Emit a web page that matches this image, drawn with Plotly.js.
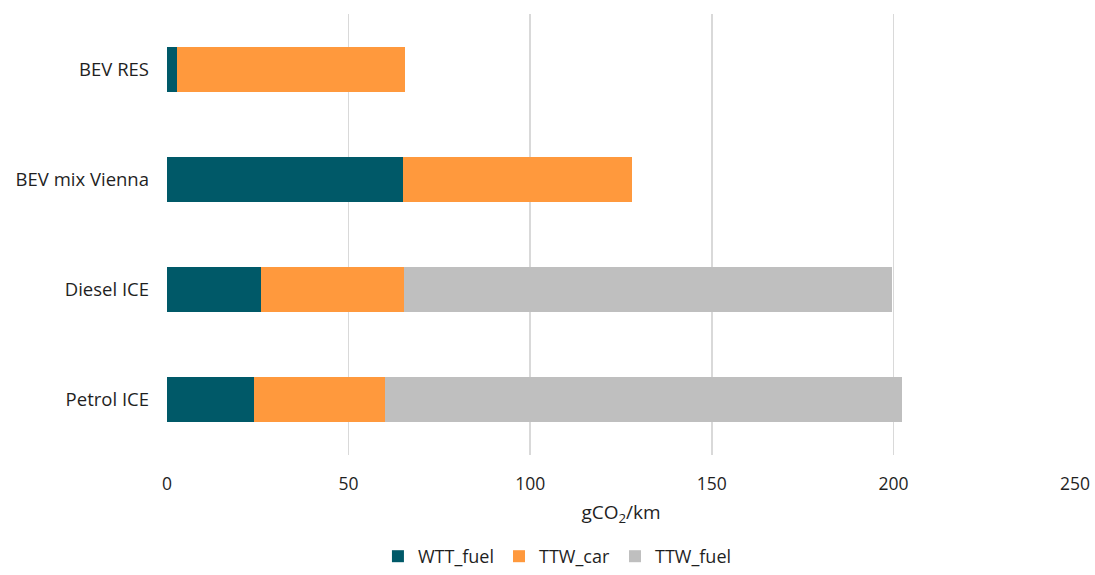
<!DOCTYPE html>
<html>
<head>
<meta charset="utf-8">
<script src="https://cdn.plot.ly/plotly-3.0.1.min.js"></script>
<style>
  html, body { margin: 0; padding: 0; background: #ffffff; }
  #chart { width: 1095px; height: 575px; }
</style>
</head>
<body>
<div id="chart"></div>
<script>
// Vehicle types, listed bottom to top
const vehicles = ['Petrol ICE', 'Diesel ICE', 'BEV mix Vienna', 'BEV RES'];

// Emissions per component, gCO2/km
const wttFuel = [24.0, 26.0, 65.0, 2.8];
const ttwCar  = [36.1, 39.3, 62.9, 62.7];
const ttwFuel = [142.3, 134.2, 0, 0];

const xTicks = [0, 50, 100, 150, 200, 250];

const FONT = 'Open Sans, Lato, sans-serif';
const TEXT = '#1f1f1f';

function series(name, values, color) {
  return {
    type: 'bar',
    orientation: 'h',
    name: name,
    y: vehicles,
    x: values,
    marker: { color: color, line: { width: 0 } },
    hoverinfo: 'name+x'
  };
}

const data = [
  series('WTT_fuel', wttFuel, '#005968'),
  series('TTW_car',  ttwCar,  '#ff993d'),
  series('TTW_fuel', ttwFuel, '#bfbfbf')
];

const layout = {
  width: 1095,
  height: 575,
  barmode: 'stack',
  bargap: 0.59,
  paper_bgcolor: '#ffffff',
  plot_bgcolor: '#ffffff',
  margin: { l: 167, r: 20, t: 14, b: 120, autoexpand: false },
  font: { family: FONT, size: 18, color: TEXT },
  showlegend: true,
  legend: {
    orientation: 'h',
    x: 0.43,
    xanchor: 'center',
    yref: 'container',
    y: 0.0,
    yanchor: 'bottom',
    traceorder: 'normal',
    font: { family: FONT, size: 18, color: TEXT },
    itemwidth: 30
  },
  xaxis: {
    range: [0, 250],
    tickvals: xTicks,
    ticktext: xTicks.map(String),
    showgrid: true,
    gridcolor: '#d9d9d9',
    gridwidth: 1.5,
    zeroline: false,
    showline: false,
    ticks: '',
    ticklabelstandoff: 16,
    tickfont: { family: FONT, size: 17.5, color: TEXT },
    title: {
      text: 'gCO<sub>2</sub>/km',
      font: { family: FONT, size: 19, color: TEXT },
      standoff: 12
    },
    automargin: false,
    fixedrange: true
  },
  yaxis: {
    type: 'category',
    categoryorder: 'array',
    categoryarray: vehicles,
    showgrid: false,
    zeroline: false,
    showline: false,
    ticks: '',
    ticklabelstandoff: 17,
    tickfont: { family: FONT, size: 18.5, color: TEXT },
    automargin: false,
    fixedrange: true
  }
};

Plotly.newPlot('chart', data, layout, { displayModeBar: false, staticPlot: true });
</script>
</body>
</html>
